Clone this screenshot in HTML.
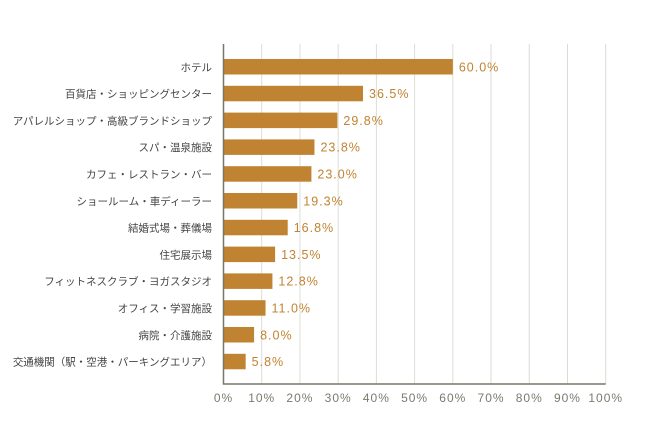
<!DOCTYPE html>
<html><head><meta charset="utf-8"><style>
body{margin:0;background:#fff;}
svg text{font-family:"Liberation Sans","Noto Sans CJK JP",sans-serif;}
</style></head><body>
<svg id="c" width="650" height="422"></svg>
<script>
const categories=["ホテル","百貨店・ショッピングセンター","アパレルショップ・高級ブランドショップ","スパ・温泉施設","カフェ・レストラン・バー","ショールーム・車ディーラー","結婚式場・葬儀場","住宅展示場","フィットネスクラブ・ヨガスタジオ","オフィス・学習施設","病院・介護施設","交通機関（駅・空港・パーキングエリア）"];
const values=[60.0,36.5,29.8,23.8,23.0,19.3,16.8,13.5,12.8,11.0,8.0,5.8];
const ticks=[0,10,20,30,40,50,60,70,80,90,100];
const svg=document.getElementById('c');
const NS='http://www.w3.org/2000/svg';
const x0=223.5,x1=605.7,plotTop=44,plotBottom=384,firstY=59,step=26.8,bh=15.5;
const xs=v=>x0+(x1-x0)*v/100;
const ys=i=>firstY+i*step;
function mk(t,a,txt){const e=document.createElementNS(NS,t);for(const k in a)e.setAttribute(k,a[k]);if(txt!=null)e.textContent=txt;svg.appendChild(e);return e;}
ticks.forEach(t=>{
  if(t>0){const g=mk('line',{x1:xs(t),x2:xs(t),y1:plotTop,y2:plotBottom,stroke:'#dcdcd6','stroke-width':1});
  
  }
  const l=mk('text',{x:xs(t),y:402,'text-anchor':'middle','font-size':12,fill:'#7a7a6e','letter-spacing':'1'},t+'%');
  
  
});
categories.forEach((c,i)=>{
  const y=ys(i);
  const b=mk('rect',{x:x0,y:y,width:xs(values[i])-x0,height:bh,fill:'#c08332'});
  
  
  const v=mk('text',{x:xs(values[i])+6,y:y+bh/2+4.5,'font-size':12.5,fill:'#c08332','letter-spacing':'1'},values[i].toFixed(1)+'%');
  
  
  const l=mk('text',{x:212,y:y+bh/2+4,'text-anchor':'end','font-size':10.5,fill:'#444'},c);
  
  
});
const ax=mk('line',{x1:x0,x2:x0,y1:plotTop,y2:plotBottom,stroke:'#77776a','stroke-width':1.5});


const bx=mk('line',{x1:x0-0.7,x2:x1,y1:plotBottom,y2:plotBottom,stroke:'#77776a','stroke-width':1.5});


</script>
</body></html>
